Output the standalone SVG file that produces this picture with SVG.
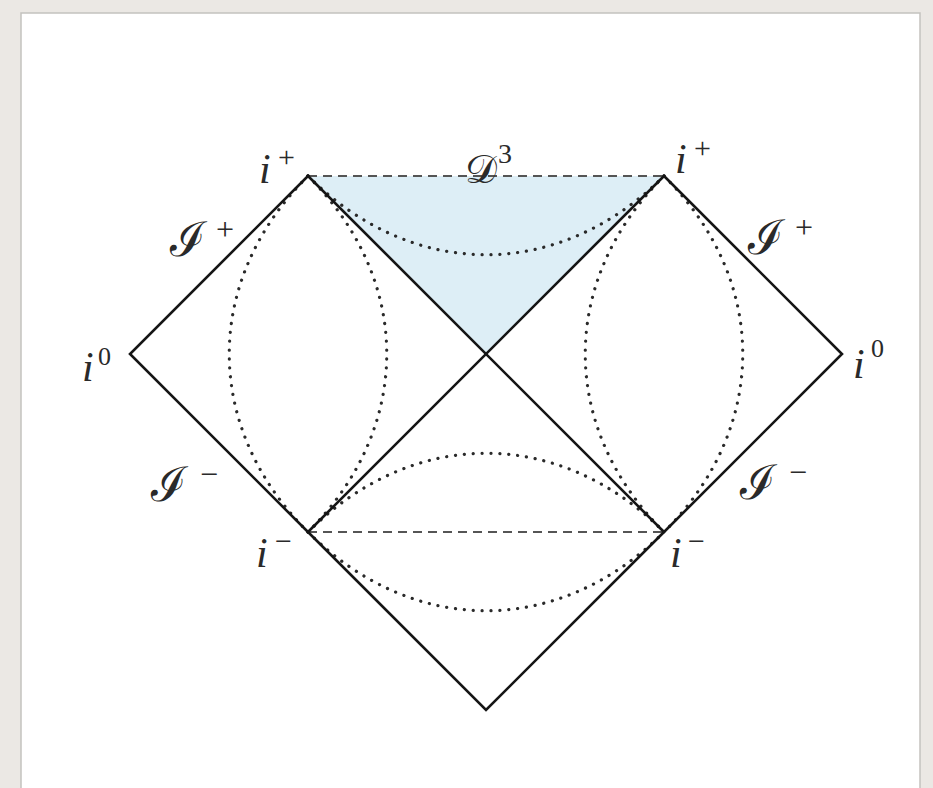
<svg xmlns="http://www.w3.org/2000/svg" width="933" height="788" viewBox="0 0 933 788">
<style>
.solid{fill:none;stroke:#151515;stroke-width:2.6;stroke-linecap:round;stroke-linejoin:miter}
.dash{fill:none;stroke:#555;stroke-width:1.8;stroke-dasharray:9 6}
.dot{fill:none;stroke:#2a2a2a;stroke-width:3.2;stroke-linecap:round;stroke-dasharray:0.1 8.8}
text{fill:#2a2a2a}
.it{font-family:'Times New Roman','Liberation Serif','Nimbus Roman',serif;font-style:italic}
.up{font-family:'Times New Roman','Liberation Serif','Nimbus Roman',serif}
.scr{font-family:serif;font-style:normal}
</style>
<rect x="0" y="0" width="933" height="788" fill="#ebe8e4"/>
<rect x="21" y="13" width="899" height="790" fill="#ffffff" stroke="#c4c2be" stroke-width="1.5"/>

<g id="region-future">
<polygon points="308,176 664,176 486,354" fill="#ddeef6"/>
</g>

<g id="connectors">
<path class="dash" d="M308,176 H664"/>
<path class="dash" d="M308,532 H664"/>
<path class="dot" d="M308,176 C203,281 203,427 308,532"/>
<path class="dot" d="M308,176 C413,281 413,427 308,532"/>
<path class="dot" d="M664,176 C559,281 559,427 664,532"/>
<path class="dot" d="M664,176 C769,281 769,427 664,532"/>
<path class="dot" d="M308,176 C413,281 559,281 664,176"/>
<path class="dot" d="M308,532 C413,427 559,427 664,532"/>
<path class="dot" d="M308,532 C413,637 559,637 664,532"/>
<path class="solid" d="M308,176 L130,354 L308,532 L486,710 L664,532 L842,354 L664,176"/>
<path class="solid" d="M308,176 L664,532"/>
<path class="solid" d="M664,176 L308,532"/>
</g>

<g id="label-iplus-left">
<text class="it" x="259" y="183" font-size="42">i</text>
<text class="up" x="278" y="167" font-size="30">+</text>
</g>
<g id="label-iplus-right">
<text class="it" x="675" y="173" font-size="42">i</text>
<text class="up" x="694" y="158" font-size="30">+</text>
</g>
<g id="label-D3">
<text class="scr" x="465" y="183" font-size="40">𝒟</text>
<text class="up" x="498" y="163" font-size="28">3</text>
</g>
<g id="label-scriplus-left">
<text class="scr" x="170" y="256" font-size="48">ℐ</text>
<text class="up" x="216" y="240" font-size="32">+</text>
</g>
<g id="label-scriplus-right">
<text class="scr" x="748" y="254" font-size="48">ℐ</text>
<text class="up" x="795" y="238" font-size="32">+</text>
</g>
<g id="label-i0-left">
<text class="it" x="82" y="381" font-size="42">i</text>
<text class="up" x="98" y="365" font-size="26">0</text>
</g>
<g id="label-i0-right">
<text class="it" x="853" y="378" font-size="42">i</text>
<text class="up" x="871" y="357" font-size="26">0</text>
</g>
<g id="label-scriminus-left">
<text class="scr" x="151" y="501" font-size="48">ℐ</text>
<text class="up" x="200" y="485" font-size="32">−</text>
</g>
<g id="label-scriminus-right">
<text class="scr" x="740" y="499" font-size="48">ℐ</text>
<text class="up" x="789" y="483" font-size="32">−</text>
</g>
<g id="label-iminus-left">
<text class="it" x="256" y="567" font-size="42">i</text>
<text class="up" x="275" y="551" font-size="30">−</text>
</g>
<g id="label-iminus-right">
<text class="it" x="670" y="567" font-size="42">i</text>
<text class="up" x="688" y="551" font-size="30">−</text>
</g>
</svg>
